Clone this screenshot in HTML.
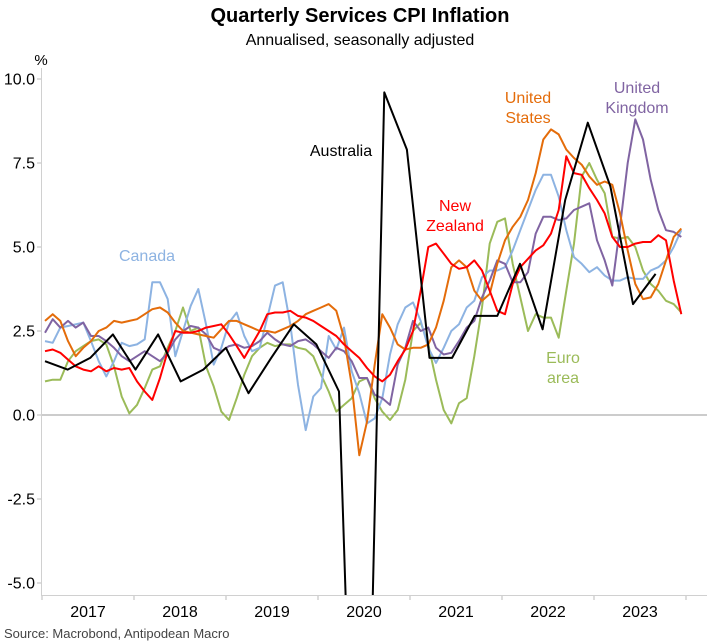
<!DOCTYPE html>
<html><head><meta charset="utf-8"><style>
html,body{margin:0;padding:0;width:717px;height:643px;overflow:hidden;background:#fff;font-family:"Liberation Sans",Arial,sans-serif;}
svg{display:block;overflow:hidden}
</style></head><body>
<svg id="chart" width="717" height="643" xmlns="http://www.w3.org/2000/svg">
<text x="360" y="22" text-anchor="middle" font-size="20" font-weight="bold" fill="#000">Quarterly Services CPI Inflation</text>
<text x="360" y="45" text-anchor="middle" font-size="16" fill="#000">Annualised, seasonally adjusted</text>
<text x="41" y="65" text-anchor="middle" font-size="15" fill="#000">%</text>
<g id="axes"></g>
<g id="series"></g>
<g id="labels">
<text x="147" y="261" text-anchor="middle" font-size="16" fill="#8db3e2">Canada</text>
<text x="341" y="156" text-anchor="middle" font-size="16" fill="#000">Australia</text>
<text x="455" y="211" text-anchor="middle" font-size="16" fill="#ff0000"><tspan x="455">New</tspan><tspan x="455" dy="20">Zealand</tspan></text>
<text x="528" y="103" text-anchor="middle" font-size="16" fill="#e46c0a"><tspan x="528">United</tspan><tspan x="528" dy="20">States</tspan></text>
<text x="637" y="93" text-anchor="middle" font-size="16" fill="#8064a2"><tspan x="637">United</tspan><tspan x="637" dy="20">Kingdom</tspan></text>
<text x="563" y="363" text-anchor="middle" font-size="16" fill="#9bbb59"><tspan x="563">Euro</tspan><tspan x="563" dy="20">area</tspan></text>
</g>
<text x="4" y="638" font-size="13" fill="#444">Source: Macrobond, Antipodean Macro</text>
</svg>
<script>
const yTicks=[10,7.5,5,2.5,0,-2.5,-5];
const yTickLabels=["10.0","7.5","5.0","2.5","0.0","-2.5","-5.0"];
const years=["2017","2018","2019","2020","2021","2022","2023"];
const us=[2.8,3.0,2.8,2.2,1.75,2.0,2.2,2.5,2.6,2.8,2.75,2.8,2.85,3.0,3.15,3.2,3.05,2.75,2.5,2.45,2.4,2.35,2.3,2.55,2.8,2.8,2.7,2.6,2.5,2.5,2.45,2.55,2.65,2.8,3.0,3.1,3.2,3.3,3.1,2.3,0.9,-1.2,-0.2,1.5,3.0,2.6,2.1,1.95,2.0,2.0,2.1,2.6,3.4,4.4,4.6,4.4,3.7,3.4,3.6,4.5,5.2,5.6,5.9,6.4,7.2,8.2,8.5,8.35,7.9,7.65,7.45,7.1,6.85,6.95,6.85,6.0,4.9,3.9,3.45,3.5,3.9,4.6,5.3,5.55];
const nz=[1.9,1.95,1.85,1.65,1.45,1.35,1.3,1.45,1.3,1.4,1.35,1.4,1.0,0.7,0.45,1.1,1.9,2.5,2.45,2.45,2.5,2.6,2.65,2.7,2.4,2.05,1.7,2.1,2.5,3.0,3.05,3.05,3.1,2.95,2.9,2.8,2.65,2.5,2.35,2.1,1.9,1.7,1.4,1.15,1.0,1.2,1.6,1.95,2.5,3.7,5.0,5.1,4.8,4.5,4.35,4.4,4.6,4.3,3.7,3.1,3.0,3.9,4.4,4.65,4.9,5.05,5.4,6.1,7.7,7.2,7.15,6.75,6.4,6.0,5.3,5.0,5.0,5.1,5.15,5.15,5.35,5.2,4.0,3.0];
const canada=[2.2,2.15,2.6,2.65,2.7,2.75,2.2,1.6,1.15,1.6,2.15,2.05,2.1,2.25,3.95,3.95,3.45,1.75,2.5,3.25,3.75,2.7,1.5,2.0,2.75,3.05,2.35,1.9,2.0,2.9,3.85,3.95,2.7,0.9,-0.45,0.55,0.8,2.35,1.95,2.6,1.3,0.65,-0.25,-0.1,0.5,1.8,2.7,3.2,3.35,2.8,2.0,1.55,2.0,2.5,2.7,3.2,3.4,4.1,4.3,4.3,4.4,4.9,5.5,6.1,6.7,7.15,7.15,6.5,5.5,4.7,4.5,4.25,4.4,4.15,4.0,4.0,4.1,4.05,4.05,4.3,4.4,4.6,5.0,5.5];
const euro=[1.0,1.05,1.05,1.6,1.9,2.05,2.2,2.25,2.1,1.45,0.55,0.05,0.3,0.8,1.35,1.45,2.0,2.5,3.2,2.5,2.6,1.45,0.85,0.1,-0.15,0.5,1.2,1.75,2.0,2.15,2.05,2.1,2.1,2.0,1.95,1.75,1.2,0.7,0.1,0.3,0.5,1.0,1.1,0.5,0.1,-0.15,0.15,1.05,2.5,2.75,2.1,1.05,0.15,-0.25,0.35,0.5,1.75,3.2,5.1,5.75,5.85,4.5,3.5,2.5,3.0,2.9,2.9,2.3,3.7,5.1,7.1,7.5,7.0,6.6,5.3,5.25,5.3,5.0,4.3,3.9,3.7,3.4,3.3,3.05];
const uk=[2.45,2.85,2.6,2.8,2.6,2.75,2.35,2.35,2.2,2.0,1.75,1.6,1.75,1.9,1.75,1.6,1.85,2.25,2.5,2.65,2.6,2.4,2.0,1.9,2.05,2.1,2.0,2.05,2.2,2.45,2.25,2.1,2.05,2.2,2.25,2.1,1.9,1.7,2.0,1.9,1.6,1.1,1.1,0.6,0.5,0.3,1.5,2.0,2.8,2.5,2.6,2.0,1.8,1.85,2.2,2.6,2.8,3.5,4.0,4.6,4.5,3.95,3.95,4.25,5.4,5.9,5.9,5.8,5.85,6.1,6.2,6.3,5.2,4.6,3.85,5.6,7.5,8.8,8.2,7.0,6.1,5.5,5.45,5.3];
const australia=[1.6,1.35,1.7,2.4,1.35,2.4,1.0,1.35,2.0,0.65,1.7,2.7,2.1,0.7,-20,9.6,7.9,1.7,1.7,2.95,2.95,4.5,2.55,6.4,8.7,6.8,3.3,4.2];

const NS="http://www.w3.org/2000/svg";
const X0=42, YEARW=92, YBOT=595, YTOP=66;
function xScale(m){return X0+3+m*YEARW/12;}
function yScale(v){return 415-v*33.6;}
function mk(tag,attrs,parent){const e=document.createElementNS(NS,tag);for(const k in attrs)e.setAttribute(k,attrs[k]);parent.appendChild(e);return e;}
const axes=document.getElementById('axes');
const yAxis=mk('line',{x1:41.5,y1:68,x2:41.5,y2:595,stroke:'#d0d0d0','stroke-width':1},axes);


const xAxis=mk('line',{x1:41,y1:595.5,x2:707,y2:595.5,stroke:'#d0d0d0','stroke-width':1},axes);


const zl=mk('line',{x1:42,y1:yScale(0),x2:707,y2:yScale(0),stroke:'#999','stroke-width':1},axes);


yTicks.forEach((v,i)=>{
  const y=yScale(v);
  const t=mk('line',{x1:37,y1:y,x2:41,y2:y,stroke:'#bbb'},axes);
  
  
  const l=mk('text',{x:35,y:y+5.5,'text-anchor':'end','font-size':16,fill:'#000'},axes);
  l.textContent=yTickLabels[i];
  
  
});
years.forEach((yr,i)=>{
  const x=X0+i*YEARW;
  const t=mk('line',{x1:x,y1:596,x2:x,y2:600,stroke:'#bbb'},axes);
  
  
  const l=mk('text',{x:x+YEARW/2,y:617,'text-anchor':'middle','font-size':16,fill:'#000'},axes);
  l.textContent=yr;
  
  
});
const tEnd=mk('line',{x1:X0+7*YEARW,y1:596,x2:X0+7*YEARW,y2:600,stroke:'#bbb'},axes);


const g=document.getElementById('series');
function clipRuns(pts){
  const runs=[];let cur=[];
  const inside=p=>p[1]>=YTOP&&p[1]<=YBOT;
  const cross=(a,b)=>{const yb=(b[1]>YBOT||a[1]>YBOT)?YBOT:YTOP;const t=(yb-a[1])/(b[1]-a[1]);return [a[0]+t*(b[0]-a[0]),yb];};
  for(let i=0;i<pts.length;i++){
    const p=pts[i];
    if(inside(p)){
      if(i>0&&!inside(pts[i-1]))cur.push(cross(pts[i-1],p));
      cur.push(p);
    }else{
      if(i>0&&inside(pts[i-1])){cur.push(cross(pts[i-1],p));runs.push(cur);cur=[];}
    }
  }
  if(cur.length)runs.push(cur);
  return runs;
}
function drawLine(vals,step,offset,color,name){
  const pts=vals.map((v,i)=>[xScale(i*step+offset),yScale(v)]);
  clipRuns(pts).forEach(run=>{
    const p=mk('polyline',{points:run.map(q=>q[0].toFixed(1)+','+q[1].toFixed(1)).join(' '),fill:'none',stroke:color,'stroke-width':2,'stroke-linejoin':'round'},g);
    
    
  });
}
drawLine(euro,1,0,'#9bbb59','line-euro-area');
drawLine(canada,1,0,'#8db3e2','line-canada');
drawLine(uk,1,0,'#8064a2','line-united-kingdom');
drawLine(us,1,0,'#e46c0a','line-united-states');
drawLine(nz,1,0,'#ff0000','line-new-zealand');
drawLine(australia,2.95,0,'#000000','line-australia');
</script>
</body></html>
